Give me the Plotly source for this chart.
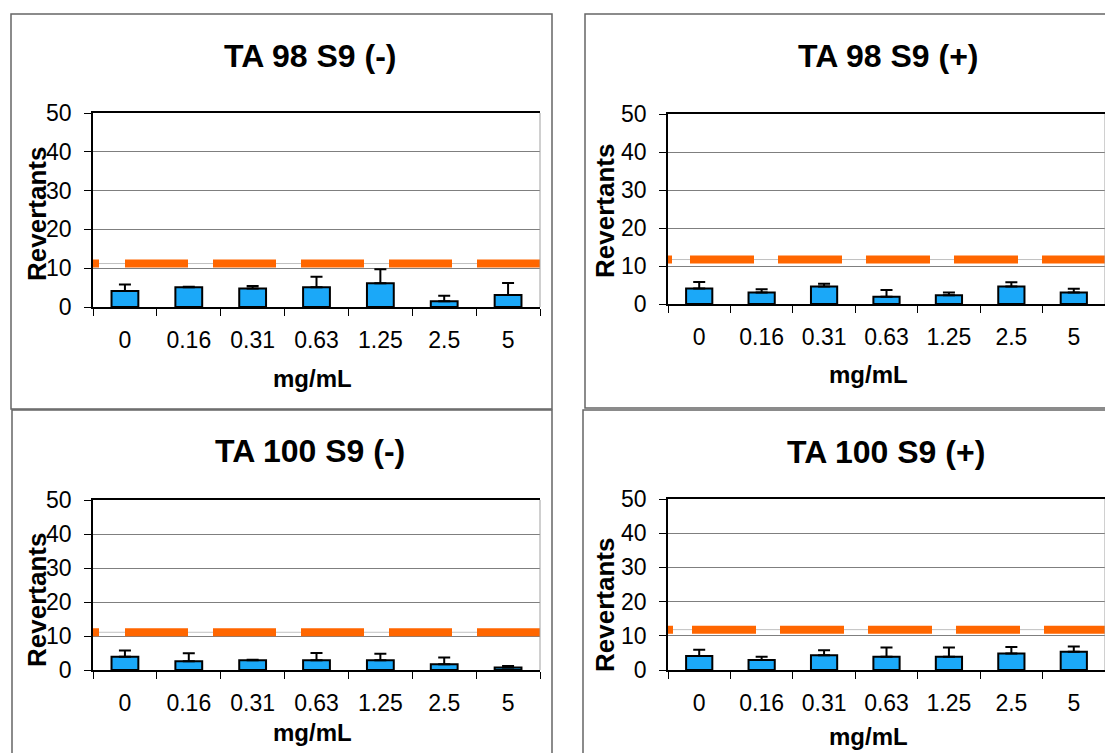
import plotly.graph_objects as go

# ---------------- data ----------------
categories = ["0", "0.16", "0.31", "0.63", "1.25", "2.5", "5"]

titles = ["TA 98 S9 (-)", "TA 98 S9 (+)", "TA 100 S9 (-)", "TA 100 S9 (+)"]

ta98_neg_mean = [4.1, 5.1, 4.8, 5.1, 6.1, 1.5, 3.1]
ta98_neg_err = [1.7, 0.1, 0.6, 2.7, 3.6, 1.4, 3.1]
ta98_neg_ctrl = 11.2

ta98_pos_mean = [4.1, 3.0, 4.6, 1.9, 2.3, 4.6, 3.0]
ta98_pos_err = [1.7, 0.9, 0.7, 1.8, 0.7, 1.1, 1.0]
ta98_pos_ctrl = 11.7

ta100_neg_mean = [3.9, 2.6, 2.9, 2.9, 2.9, 1.7, 0.7]
ta100_neg_err = [1.8, 2.3, 0.1, 2.1, 1.9, 2.0, 0.5]
ta100_neg_ctrl = 11.1

ta100_pos_mean = [4.1, 2.9, 4.3, 3.9, 3.9, 4.8, 5.3]
ta100_pos_err = [1.8, 1.0, 1.5, 2.7, 2.7, 1.9, 1.6]
ta100_pos_ctrl = 11.8

y_ticks = [0, 10, 20, 30, 40, 50]
x_title = "mg/mL"
y_title = "Revertants"

# ---------------- layout (pixels) ----------------
W, H = 1105, 753
FONT = "Liberation Sans, Arial, sans-serif"
BAR_COLOR = "#1BA8F8"
ORANGE = "#FF6600"


def px(x):
    return x / W


def py(y):
    return 1 - y / H


# plot areas: left, right, top(50), bottom(0) in pixels; dash = first piece, gap, dash, gap
panels = [
    dict(mean=ta98_neg_mean, err=ta98_neg_err, ctrl=ta98_neg_ctrl, title=titles[0],
         area=(93, 540, 113, 307), title_xy=(310, 56), xt_xy=(312, 378), yt_xy=(37, 214),
         box=(11, 552, 14, 409), dash=(6, 26, 63, 25)),
    dict(mean=ta98_pos_mean, err=ta98_pos_err, ctrl=ta98_pos_ctrl, title=titles[1],
         area=(668, 1105, 114, 304), title_xy=(888, 56), xt_xy=(868, 374), yt_xy=(605, 211),
         box=(585, 1115, 14, 408), dash=(4, 18, 64, 24)),
    dict(mean=ta100_neg_mean, err=ta100_neg_err, ctrl=ta100_neg_ctrl, title=titles[2],
         area=(93, 540, 500, 670), title_xy=(310, 451), xt_xy=(312, 732), yt_xy=(37, 600),
         box=(12, 552, 410, 765), dash=(6, 26, 63, 25)),
    dict(mean=ta100_pos_mean, err=ta100_pos_err, ctrl=ta100_pos_ctrl, title=titles[3],
         area=(668, 1105, 499, 670), title_xy=(886, 452), xt_xy=(868, 736), yt_xy=(605, 605),
         box=(583, 1115, 410, 765), dash=(5, 19, 64, 24)),
]

fig = go.Figure()
n = len(categories)
xpos = list(range(n))
shapes = []
annotations = []

for i, p in enumerate(panels):
    k = "" if i == 0 else str(i + 1)
    xa, ya = "x" + k, "y" + k
    l, r, t, b = p["area"]
    d0, g0, d, g = p["dash"]
    dash = ",".join(f"{v}px" for v in [d0, g0] + [d, g] * 6)

    # thin grey reference line
    fig.add_trace(go.Scatter(x=[-0.5, n - 0.5], y=[p["ctrl"], p["ctrl"]], mode="lines",
                             line=dict(color="#C0C0C0", width=1), xaxis=xa, yaxis=ya,
                             showlegend=False, hoverinfo="skip"))
    # orange dashed line
    fig.add_trace(go.Scatter(x=[-0.5, n - 0.5], y=[p["ctrl"], p["ctrl"]], mode="lines",
                             line=dict(color=ORANGE, width=8, dash=dash), xaxis=xa, yaxis=ya,
                             showlegend=False, hoverinfo="skip"))
    # bars
    fig.add_trace(go.Bar(x=xpos, y=p["mean"], width=0.42, xaxis=xa, yaxis=ya,
                         marker=dict(color=BAR_COLOR, line=dict(color="black", width=2)),
                         error_y=dict(type="data", array=p["err"], arrayminus=[0] * n,
                                      symmetric=False, color="black", thickness=2, width=6),
                         showlegend=False))

    fig.layout["xaxis" + k] = dict(
        domain=[px(l), px(r)], anchor=ya, range=[-0.5, n - 0.5], automargin=False,
        tickmode="array", tickvals=xpos, ticktext=categories, ticks="",
        minor=dict(tickmode="array", tickvals=[j - 0.5 for j in range(n + 1)],
                   ticks="outside", ticklen=7, tickcolor="black", tickwidth=1, showgrid=False),
        showline=True, linecolor="black", linewidth=1.5, mirror=True,
        showgrid=False, zeroline=False, fixedrange=True,
        tickfont=dict(family=FONT, size=23, color="black"), ticklabelstandoff=12,
    )
    fig.layout["yaxis" + k] = dict(
        domain=[py(b), py(t)], anchor=xa, range=[0, 50], automargin=False,
        tickmode="array", tickvals=y_ticks, ticks="outside", ticklen=7,
        tickcolor="black", tickwidth=1, ticklabelstandoff=8,
        showline=True, linecolor="black", linewidth=1.5,
        showgrid=True, gridcolor="#7F7F7F", gridwidth=1, zeroline=False, fixedrange=True,
        tickfont=dict(family=FONT, size=23, color="black"),
    )
    # right border of plot area
    shapes.append(dict(type="line", xref=xa + " domain", yref=ya + " domain",
                       x0=1, x1=1, y0=0, y1=1, line=dict(color="#A0A0A0", width=1)))
    # panel border
    bl, br, bt, bb = p["box"]
    shapes.append(dict(type="rect", xref="paper", yref="paper",
                       x0=px(bl), x1=px(br), y0=py(bb), y1=py(bt),
                       line=dict(color="#666666", width=1.5), layer="below"))
    # titles
    annotations.append(dict(text="<b>" + p["title"] + "</b>", xref="paper", yref="paper",
                            x=px(p["title_xy"][0]), y=py(p["title_xy"][1]),
                            showarrow=False, xanchor="center", yanchor="middle",
                            font=dict(family=FONT, size=32, color="black")))
    annotations.append(dict(text="<b>" + x_title + "</b>", xref="paper", yref="paper",
                            x=px(p["xt_xy"][0]), y=py(p["xt_xy"][1]),
                            showarrow=False, xanchor="center", yanchor="middle",
                            font=dict(family=FONT, size=24, color="black")))
    annotations.append(dict(text="<b>" + y_title + "</b>", xref="paper", yref="paper",
                            x=px(p["yt_xy"][0]), y=py(p["yt_xy"][1]), textangle=-90,
                            showarrow=False, xanchor="center", yanchor="middle",
                            font=dict(family=FONT, size=26, color="black")))

fig.update_layout(
    template="none",
    width=W, height=H, margin=dict(l=0, r=0, t=0, b=0, pad=0), autosize=False,
    paper_bgcolor="white", plot_bgcolor="white",
    shapes=shapes, annotations=annotations, barmode="overlay",
    showlegend=False,
)

fig.write_html(
    "out.html",
    config={"displayModeBar": False},
    post_script="document.body.style.margin='0';document.body.style.overflow='hidden';",
)
